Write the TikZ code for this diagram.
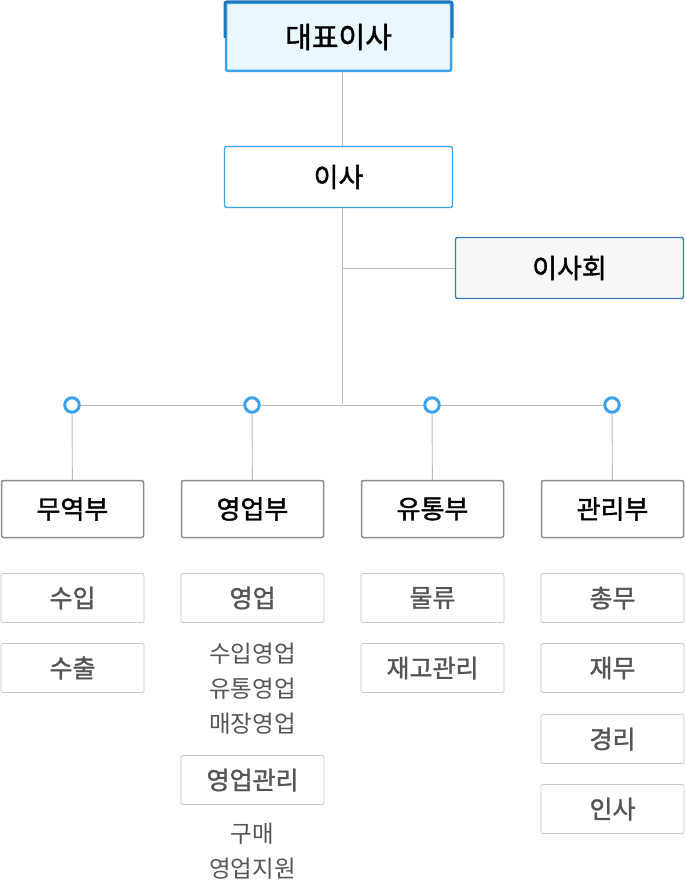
\documentclass[tikz,border=0pt]{standalone}
\usepackage{fontspec}
\setmainfont{Noto Sans CJK KR}
\newfontfamily\medfont[FakeBold=1.4]{Noto Sans CJK KR}
\usetikzlibrary{positioning}
\usetikzlibrary{calc}

\definecolor{lineg}{HTML}{BBBBBB}
\definecolor{blueb}{HTML}{3DA2EC}
\definecolor{bluedk}{HTML}{2F7FC6}
\definecolor{bluetop}{HTML}{1F76B9}
\definecolor{ceofill}{HTML}{EBF7FE}
\definecolor{subtxt}{HTML}{555555}

\tikzset{
  topbox/.style={draw=blueb, line width=2.5pt, fill=ceofill, rounded corners=2pt,
    minimum width=225pt, minimum height=68pt, font=\fontsize{29}{34}\medfont},
  headbox/.style={draw=blueb, line width=1.3pt, fill=white, rounded corners=2pt,
    minimum width=228pt, minimum height=61pt, font=\fontsize{27}{32}\medfont},
  boardbox/.style={draw=bluedk, line width=1.3pt, fill=black!3, rounded corners=2pt,
    minimum width=228pt, minimum height=61pt, font=\fontsize{27}{32}\medfont},
  deptbox/.style={draw=black!45, line width=1.5pt, fill=white, rounded corners=2pt,
    minimum width=142pt, minimum height=57pt, font=\fontsize{26}{30}\medfont},
  subbox/.style={draw=black!22, line width=0.8pt, fill=white, rounded corners=2pt,
    minimum width=143pt, minimum height=49pt, text=subtxt, font=\fontsize{25}{29}\medfont},
  item/.style={text=subtxt, font=\fontsize{23.5}{27}\selectfont, inner sep=0pt},
  dot/.style={circle, draw=blueb, line width=3pt, fill=white, minimum size=14.5pt, inner sep=0pt},
  link/.style={draw=lineg, line width=0.9pt}
}

\begin{document}
\begin{tikzpicture}[x=1pt, y=-1pt]
  \useasboundingbox (0,0) rectangle (685,882);

  % top
  \node[topbox] (ceo) at (338.5,37) {대표이사};
  \begin{scope}
    \clip (215,-5) rectangle (465,38);
    \draw[bluetop, line width=2.5pt, rounded corners=2pt] (ceo.south west) rectangle (ceo.north east);
  \end{scope}
  \node[headbox] (dir) at (338.5,177) {이사};
  \node[boardbox] (board) at (569.5,268) {이사회};
  \coordinate (hub) at (342,404);
  \coordinate (bjoin) at (342,268);
  \draw[link] (ceo.south -| hub) -- (dir.north -| hub);
  \draw[link] (dir.south -| hub) -- (hub);
  \draw[link] (bjoin) -- (board.west);

  % departments
  \node[dot] (d1) at (72,405) {};
  \node[dot] (d2) at (252,405) {};
  \node[dot] (d3) at (432,405) {};
  \node[dot] (d4) at (612,405) {};
  \draw[link] (d1) -- (d2) -- (d3) -- (d4);

  \node[deptbox] (trade) at (72.5,509) {무역부};
  \node[deptbox] (sales) at (252.5,509) {영업부};
  \node[deptbox] (dist) at (432.5,509) {유통부};
  \node[deptbox] (admin) at (612.5,509) {관리부};
  \draw[link] (d1) -- (trade);
  \draw[link] (d2) -- (sales);
  \draw[link] (d3) -- (dist);
  \draw[link] (d4) -- (admin);

  % teams
  \node[subbox] (imp) at (72.5,598) {수입};
  \node[subbox] (exp) at (72.5,668) {수출};

  \node[subbox] (biz) at (252.5,598) {영업};
  \node[item] (biz1) at (252.5,654) {수입영업};
  \node[item] (biz2) at (252.5,689) {유통영업};
  \node[item] (biz3) at (252.5,724) {매장영업};
  \node[subbox] (bizm) at (252.5,780) {영업관리};
  \node[item] (bizm1) at (252.5,834) {구매};
  \node[item] (bizm2) at (252.5,869) {영업지원};

  \node[subbox] (logi) at (432.5,598) {물류};
  \node[subbox] (stock) at (432.5,668) {재고관리};

  \node[subbox] (gen) at (612.5,598) {총무};
  \node[subbox] (fin) at (612.5,668) {재무};
  \node[subbox] (acc) at (612.5,739) {경리};
  \node[subbox] (hr) at (612.5,809) {인사};
\end{tikzpicture}
\end{document}
